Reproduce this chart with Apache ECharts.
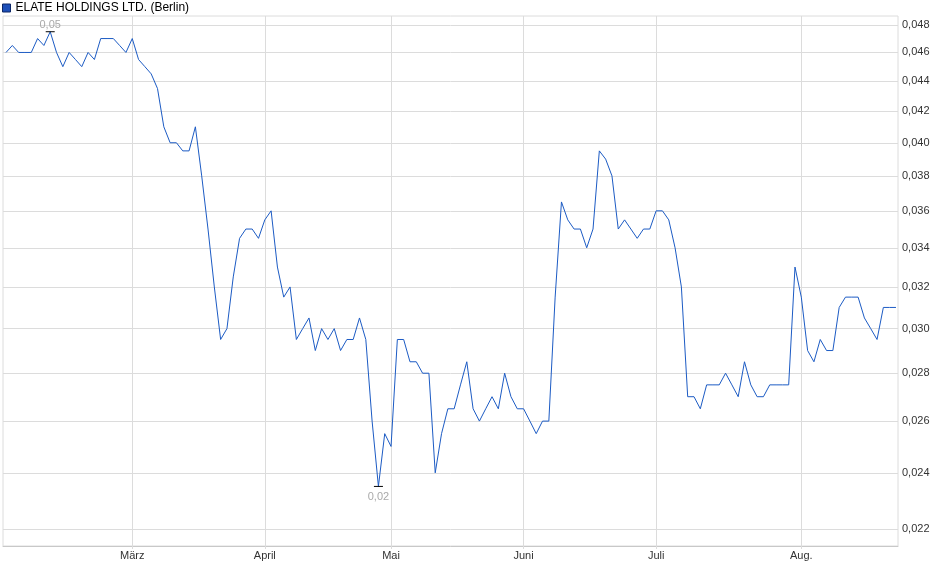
<!DOCTYPE html>
<html>
<head>
<meta charset="utf-8">
<script src="https://cdn.jsdelivr.net/npm/echarts@6/dist/echarts.min.js"></script>
<style>
html,body{margin:0;padding:0;background:#fff;}
#chart{width:940px;height:579px;}
</style>
</head>
<body>
<div id="chart"></div>
<script>
const seriesName = 'ELATE HOLDINGS LTD. (Berlin)';

const dates = [
 '2025-02-03','2025-02-04','2025-02-05','2025-02-06','2025-02-07','2025-02-10','2025-02-11','2025-02-12','2025-02-13','2025-02-14',
 '2025-02-17','2025-02-18','2025-02-19','2025-02-20','2025-02-21','2025-02-24','2025-02-25','2025-02-26','2025-02-27','2025-02-28',
 '2025-03-03','2025-03-04','2025-03-05','2025-03-06','2025-03-07','2025-03-10','2025-03-11','2025-03-12','2025-03-13','2025-03-14',
 '2025-03-17','2025-03-18','2025-03-19','2025-03-20','2025-03-21','2025-03-24','2025-03-25','2025-03-26','2025-03-27','2025-03-28','2025-03-31',
 '2025-04-01','2025-04-02','2025-04-03','2025-04-04','2025-04-07','2025-04-08','2025-04-09','2025-04-10','2025-04-11','2025-04-14',
 '2025-04-15','2025-04-16','2025-04-17','2025-04-22','2025-04-23','2025-04-24','2025-04-25','2025-04-28','2025-04-29','2025-04-30',
 '2025-05-02','2025-05-05','2025-05-06','2025-05-07','2025-05-08','2025-05-09','2025-05-12','2025-05-13','2025-05-14','2025-05-15',
 '2025-05-16','2025-05-19','2025-05-20','2025-05-21','2025-05-22','2025-05-23','2025-05-26','2025-05-27','2025-05-28','2025-05-29','2025-05-30',
 '2025-06-02','2025-06-03','2025-06-04','2025-06-05','2025-06-06','2025-06-09','2025-06-10','2025-06-11','2025-06-12','2025-06-13',
 '2025-06-16','2025-06-17','2025-06-18','2025-06-19','2025-06-20','2025-06-23','2025-06-24','2025-06-25','2025-06-26','2025-06-27','2025-06-30',
 '2025-07-01','2025-07-02','2025-07-03','2025-07-04','2025-07-07','2025-07-08','2025-07-09','2025-07-10','2025-07-11','2025-07-14',
 '2025-07-15','2025-07-16','2025-07-17','2025-07-18','2025-07-21','2025-07-22','2025-07-23','2025-07-24','2025-07-25','2025-07-28',
 '2025-07-29','2025-07-30','2025-07-31',
 '2025-08-01','2025-08-04','2025-08-05','2025-08-06','2025-08-07','2025-08-08','2025-08-11','2025-08-12','2025-08-13','2025-08-14',
 '2025-08-15','2025-08-18','2025-08-19','2025-08-20','2025-08-21','2025-08-22'
];

const prices = [
 0.046,0.0465,0.046,0.046,0.046,0.047,0.0465,0.0475,0.046,0.045,
 0.046,0.0455,0.045,0.046,0.0455,0.047,0.047,0.047,0.0465,0.046,
 0.047,0.0455,0.045,0.0445,0.0435,0.041,0.040,0.040,0.0395,0.0395,
 0.041,0.038,0.035,0.032,0.0295,0.030,0.0325,0.0345,0.035,0.035,0.0345,
 0.0355,0.036,0.033,0.0315,0.032,0.0295,0.030,0.0305,0.029,0.030,
 0.0295,0.030,0.029,0.0295,0.0295,0.0305,0.0295,0.026,0.0235,0.0255,
 0.025,0.0295,0.0295,0.0285,0.0285,0.028,0.028,0.024,0.0255,0.0265,
 0.0265,0.0275,0.0285,0.0265,0.026,0.0265,0.027,0.0265,0.028,0.027,0.0265,
 0.0265,0.026,0.0255,0.026,0.026,0.0315,0.0365,0.0355,0.035,0.035,
 0.034,0.035,0.0395,0.039,0.038,0.035,0.0355,0.035,0.0345,0.035,0.035,
 0.036,0.036,0.0355,0.034,0.032,0.027,0.027,0.0265,0.0275,0.0275,
 0.0275,0.028,0.0275,0.027,0.0285,0.0275,0.027,0.027,0.0275,0.0275,
 0.0275,0.0275,0.033,
 0.0315,0.029,0.0285,0.0295,0.029,0.029,0.031,0.0315,0.0315,0.0315,
 0.0305,0.030,0.0295,0.031,0.031,0.031
];

const monthLabels = ['März','April','Mai','Juni','Juli','Aug.'];
const monthKeys = ['2025-03','2025-04','2025-05','2025-06','2025-07','2025-08'];
const yTicks = [0.022,0.024,0.026,0.028,0.030,0.032,0.034,0.036,0.038,0.040,0.042,0.044,0.046,0.048];

const monthStarts = monthKeys.map(k => dates.findIndex(d => d.startsWith(k)));
const seriesData = prices.map((v, i) => [i, v]);

const FONT = '"Liberation Sans", Arial, sans-serif';
const GRID_COLOR = '#dcdcdc';

const chart = echarts.init(document.getElementById('chart'));
chart.setOption({
  animation: false,
  backgroundColor: '#fff',
  textStyle: { fontFamily: FONT },
  legend: {
    left: 2, top: 2, padding: 0,
    itemWidth: 8, itemHeight: 8,
    icon: 'rect',
    textStyle: { fontSize: 12, color: '#000', fontFamily: FONT },
    data: [{ name: seriesName, itemStyle: { color: '#1d4fb8', borderColor: '#0c2766', borderWidth: 1 } }]
  },
  grid: {
    left: 3, right: 42, top: 16, bottom: 33,
    show: true, borderColor: GRID_COLOR, borderWidth: 1
  },
  xAxis: {
    type: 'value',
    min: -0.48, max: 141.32,
    axisLine: { show: true, lineStyle: { color: '#c8c8c8' } },
    axisTick: { show: true, length: 3, lineStyle: { color: GRID_COLOR }, customValues: monthStarts },
    splitLine: { show: true, lineStyle: { color: GRID_COLOR, width: 1 } },
    axisLabel: {
      customValues: monthStarts,
      formatter: v => { const k = monthStarts.indexOf(Math.round(v)); return k >= 0 ? monthLabels[k] : ''; },
      fontSize: 11, color: '#333', margin: 4, fontFamily: FONT
    }
  },
  yAxis: {
    type: 'log', logBase: 10,
    position: 'right',
    min: 0.02143, max: 0.04867,
    axisLine: { show: false },
    axisTick: { show: false, customValues: yTicks },
    splitLine: { show: true, lineStyle: { color: GRID_COLOR, width: 1 } },
    axisLabel: {
      customValues: yTicks,
      formatter: v => v.toFixed(3).replace('.', ','),
      fontSize: 11, color: '#333', margin: 4, fontFamily: FONT
    }
  },
  series: [{
    name: seriesName,
    type: 'line',
    data: seriesData,
    showSymbol: false,
    symbol: 'none',
    lineStyle: { color: '#1c5bc4', width: 1 },
    itemStyle: { color: '#1c5bc4' },
    markPoint: {
      symbol: 'rect',
      symbolSize: [9, 1],
      itemStyle: { color: '#000' },
      label: {
        formatter: p => p.value.toFixed(2).replace('.', ','),
        color: '#a9a9a9', fontSize: 11, fontFamily: FONT
      },
      data: [
        { type: 'max', label: { position: 'top', distance: 1 } },
        { type: 'min', label: { position: 'bottom', distance: 5 } }
      ]
    }
  }]
});
</script>
</body>
</html>
